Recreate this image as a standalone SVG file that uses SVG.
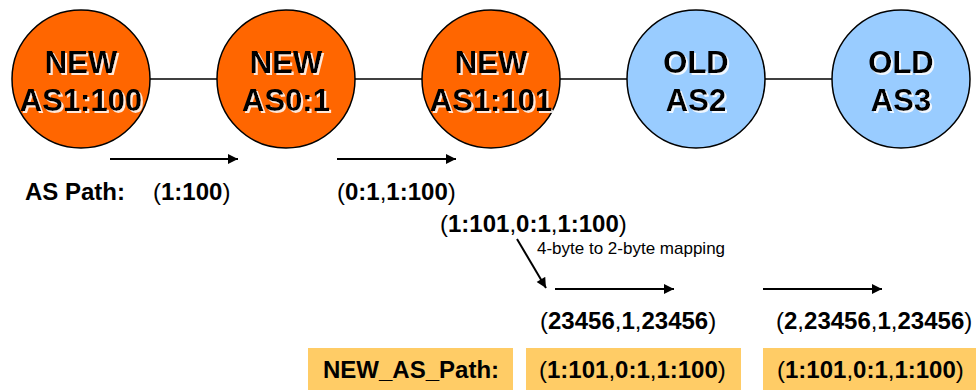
<svg xmlns="http://www.w3.org/2000/svg" width="976" height="390" viewBox="0 0 976 390">
<style>
text{font-family:"Liberation Sans",Arial,sans-serif;fill:#000}
.node circle{stroke:#000;stroke-width:1.5}
.new circle{fill:#FF6600}
.old circle{fill:#99CCFF}
.lbl{font-size:31px;font-weight:bold;text-anchor:middle;filter:url(#ws)}
.link{stroke:#000;stroke-width:1.5}
.arr{stroke:#000;stroke-width:2;fill:none;marker-end:url(#ah)}
.t{font-size:24px;font-weight:bold}
.n{font-weight:normal}
.box{fill:#FFCC66}
.small{font-size:17px}
</style>
<defs>
<marker id="ah" viewBox="0 0 10 10" refX="10" refY="5" markerWidth="5.5" markerHeight="5" markerUnits="strokeWidth" orient="auto">
<path d="M0,0L10,5L0,10z" fill="#000"/>
</marker>
<filter id="ws" x="-10%" y="-20%" width="130%" height="150%">
<feOffset in="SourceAlpha" dx="2" dy="2" result="o"/>
<feFlood flood-color="#ffffff" flood-opacity="0.85"/>
<feComposite in2="o" operator="in" result="s"/>
<feMerge><feMergeNode in="s"/><feMergeNode in="SourceGraphic"/></feMerge>
</filter>
</defs>
<g id="connectors">
<line class="link" x1="150" y1="79" x2="217" y2="79"/>
<line class="link" x1="355" y1="79" x2="422" y2="79"/>
<line class="link" x1="560" y1="79" x2="627" y2="79"/>
<line class="link" x1="765" y1="79" x2="832" y2="79"/>
<line class="arr" x1="110" y1="159" x2="238" y2="159"/>
<line class="arr" x1="337" y1="159" x2="456" y2="159"/>
<line class="arr" x1="517" y1="239" x2="546" y2="288"/>
<line class="arr" x1="555" y1="289" x2="674" y2="289"/>
<line class="arr" x1="763" y1="289" x2="882" y2="289"/>
</g>
<g id="n1" class="node new">
<circle cx="81" cy="79" r="69"/>
<text class="lbl" x="81" y="73">NEW</text><text class="lbl" x="81" y="111">AS1:100</text>
</g>
<g id="n2" class="node new">
<circle cx="286" cy="79" r="69"/>
<text class="lbl" x="286" y="73">NEW</text><text class="lbl" x="286" y="111">AS0:1</text>
</g>
<g id="n3" class="node new">
<circle cx="491" cy="79" r="69"/>
<text class="lbl" x="491" y="73">NEW</text><text class="lbl" x="491" y="111">AS1:101</text>
</g>
<g id="n4" class="node old">
<circle cx="696" cy="79" r="69"/>
<text class="lbl" x="696" y="73">OLD</text><text class="lbl" x="696" y="111">AS2</text>
</g>
<g id="n5" class="node old">
<circle cx="901" cy="79" r="69"/>
<text class="lbl" x="901" y="73">OLD</text><text class="lbl" x="901" y="111">AS3</text>
</g>
<g id="labels">
<text class="t" x="25" y="200">AS Path:</text>
<text class="t" x="153" y="200"><tspan class="n">(</tspan>1:100<tspan class="n">)</tspan></text>
<text class="t" x="337" y="200"><tspan class="n">(</tspan>0:1<tspan class="n">,</tspan>1:100<tspan class="n">)</tspan></text>
<text class="t" x="440" y="232"><tspan class="n">(</tspan>1:101<tspan class="n">,</tspan>0:1<tspan class="n">,</tspan>1:100<tspan class="n">)</tspan></text>
<text class="small" x="537" y="254">4-byte to 2-byte mapping</text>
<text class="t" x="540" y="329"><tspan class="n">(</tspan>23456<tspan class="n">,</tspan>1<tspan class="n">,</tspan>23456<tspan class="n">)</tspan></text>
<text class="t" x="776" y="329"><tspan class="n">(</tspan>2<tspan class="n">,</tspan>23456<tspan class="n">,</tspan>1<tspan class="n">,</tspan>23456<tspan class="n">)</tspan></text>
</g>
<g id="box1">
<rect class="box" x="308" y="348" width="205" height="42"/>
<text class="t" x="323" y="378">NEW_AS_Path:</text>
</g>
<g id="box2">
<rect class="box" x="526" y="348" width="215" height="42"/>
<text class="t" x="539" y="378"><tspan class="n">(</tspan>1:101<tspan class="n">,</tspan>0:1<tspan class="n">,</tspan>1:100<tspan class="n">)</tspan></text>
</g>
<g id="box3">
<rect class="box" x="763" y="348" width="213" height="42"/>
<text class="t" x="777" y="378"><tspan class="n">(</tspan>1:101<tspan class="n">,</tspan>0:1<tspan class="n">,</tspan>1:100<tspan class="n">)</tspan></text>
</g>
</svg>
